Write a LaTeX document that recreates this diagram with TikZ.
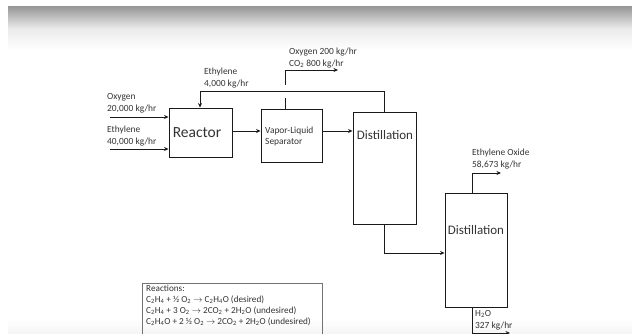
\documentclass[tikz,border=0pt]{standalone}
\usepackage{fontspec}
\setmainfont{Carlito}
\usetikzlibrary{arrows.meta}
\definecolor{txt}{HTML}{333333}
\definecolor{ln}{HTML}{1A1A1A}
\tikzset{
  unit/.style={draw=ln, line width=0.9pt, minimum width=#1, inner sep=0pt},
  lbl/.style={anchor=west, align=left, inner sep=0pt, text=txt, font=\fontsize{9.4}{12}\selectfont},
  big/.style={text=txt, inner sep=0pt},
  flow/.style={draw=ln, line width=0.9pt, -{Stealth[length=4.5pt,width=4pt]}},
  plain/.style={draw=ln, line width=0.9pt},
}
\begin{document}
\begin{tikzpicture}[x=1pt,y=-1pt]
\useasboundingbox (0,0) rectangle (632,334);
% background bands
\shade[top color=black!40, bottom color=white, middle color=black!8] (8,7) rectangle (632,50);
\shade[top color=white, bottom color=black!4] (8,318) rectangle (632,334);

% units
\node[unit=63pt, minimum height=49pt] (reactor) at (200.5,132.5) {};
\node[big, font=\fontsize{15.5}{17}\selectfont] (rtxt) at (197,133) {Reactor};
\node[unit=61pt, minimum height=53pt] (vls) at (291.5,135.5) {};
\node[unit=63pt, minimum height=112pt] (dist1) at (384.5,168) {};
\node[unit=62pt, minimum height=114pt] (dist2) at (476,250) {};
\node[lbl, font=\fontsize{9.4}{11}\selectfont] (vlstxt) at (265,136) {Vapor-Liquid\\Separator};
\node[big, font=\fontsize{13}{15}\selectfont] (d1txt) at (385,135) {Distillation};
\node[big, font=\fontsize{13}{15}\selectfont] (d2txt) at (476,230) {Distillation};

% labels
\node[lbl] (oxlbl) at (107,103) {Oxygen\\20,000 kg/hr};
\node[lbl] (etlbl) at (107,136.5) {Ethylene\\40,000 kg/hr};
\node[lbl] (rclbl) at (204,78.5) {Ethylene\\4,000 kg/hr};
\node[lbl] (vaplbl) at (289,58) {Oxygen 200 kg/hr\\CO\textsubscript{2} 800 kg/hr};
\node[lbl] (eolbl) at (472,159) {Ethylene Oxide\\58,673 kg/hr};
\node[lbl] (h2olbl) at (475,320.5) {H\textsubscript{2}O\\327 kg/hr};

% coordinates
\coordinate (oxin) at (110,117);
\coordinate (etin) at (110,149);
\coordinate (rc) at (200,91);
\coordinate (vapA) at (285,98);
\coordinate (vapB) at (285,85);
\coordinate (vapend) at (338,70);
\coordinate (eoend) at (501,173);
\coordinate (wcorner) at (472,333);
\coordinate (wend) at (510,333);

% connectors
\draw[flow] (oxin) -- (oxin -| reactor.west);
\draw[flow] (etin) -- (etin -| reactor.west);
\draw[flow] (reactor.east |- 0,131) -- (vls.west |- 0,131);
\draw[flow] (vls.east |- 0,131) -- (dist1.west |- 0,131);
\draw[flow] (dist1.north) |- (rc) -- (rc |- reactor.north);
\draw[plain] (vls.north -| vapA) -- (vapA);
\draw[flow] (vapB) |- (vapend);
\draw[flow] (dist1.south) |- (dist2.west |- 0,253);
\draw[flow] (dist2.north -| eoend) ++(-29,0) |- (eoend);
\draw[flow] (dist2.south -| wcorner) -- (wcorner) -- (wend);

% reactions box
\draw[draw=black!55, line width=0.8pt] (142,283) rectangle (322,340);
\node[anchor=north west, align=left, inner sep=0pt, text=txt, font=\fontsize{9.2}{11}\selectfont] (rxn) at (146,285) {Reactions:\\
C\textsubscript{2}H\textsubscript{4} + ½ O\textsubscript{2} $\rightarrow$ C\textsubscript{2}H\textsubscript{4}O (desired)\\
C\textsubscript{2}H\textsubscript{4} + 3 O\textsubscript{2} $\rightarrow$ 2CO\textsubscript{2} + 2H\textsubscript{2}O (undesired)\\
C\textsubscript{2}H\textsubscript{4}O + 2 ½ O\textsubscript{2} $\rightarrow$ 2CO\textsubscript{2} + 2H\textsubscript{2}O (undesired)};
\end{tikzpicture}
\end{document}
